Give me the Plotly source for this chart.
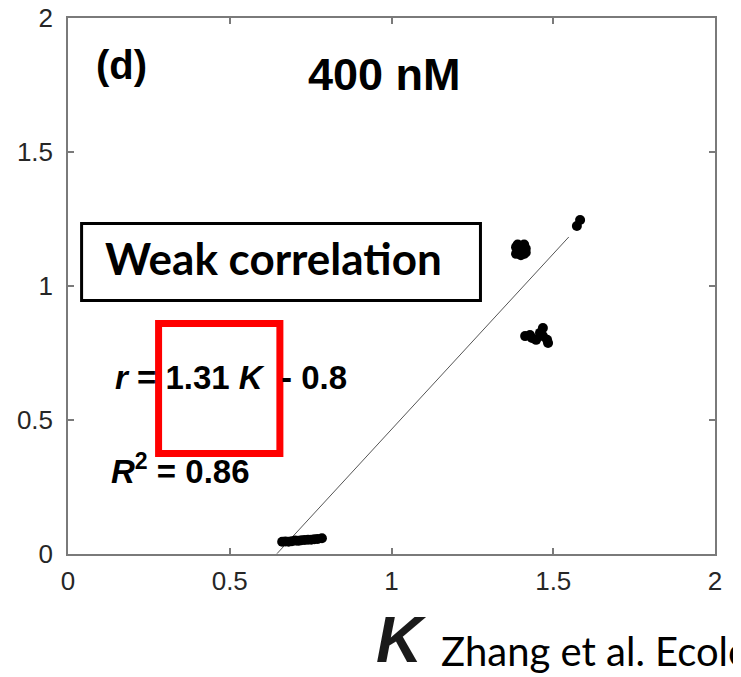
import plotly.graph_objects as go

# ---- data ----
k_values = [0.662, 0.672, 0.682, 0.692, 0.702, 0.712, 0.722, 0.732, 0.742, 0.752, 0.762, 0.772, 0.785,
            1.385, 1.390, 1.395, 1.400, 1.405, 1.410, 1.415, 1.390, 1.410, 1.400, 1.385, 1.415,
            1.413, 1.428, 1.434, 1.447, 1.459, 1.468, 1.468, 1.481, 1.484,
            1.573, 1.583]
r_values = [0.046, 0.047, 0.046, 0.048, 0.050, 0.049, 0.051, 0.052, 0.053, 0.053, 0.055, 0.056, 0.059,
            1.120, 1.140, 1.125, 1.150, 1.130, 1.155, 1.140, 1.155, 1.120, 1.115, 1.145, 1.125,
            0.813, 0.817, 0.806, 0.799, 0.825, 0.843, 0.813, 0.799, 0.787,
            1.224, 1.246]

fit_slope = 1.31
fit_intercept = -0.845
fit_k_range = [0.646, 1.548]

tick_vals = [0, 0.5, 1, 1.5, 2]
tick_text = ["0", "0.5", "1", "1.5", "2"]

panel_label = "(d)"
panel_title = "400 nM"
box_label = "Weak correlation"
equation_text = "<b><i>r</i> = 1.31 <i>K</i>  - 0.8</b>"
r2_text = "<b><i>R</i><sup>2</sup> = 0.86</b>"
x_title = "<b><i>K</i></b>"
citation = "Zhang et al. Ecology"

fit_r = [fit_slope * k + fit_intercept for k in fit_k_range]

fig = go.Figure()
fig.add_trace(go.Scatter(x=fit_k_range, y=fit_r, mode="lines",
                         line=dict(color="#555555", width=1), showlegend=False,
                         hoverinfo="skip"))
fig.add_trace(go.Scatter(x=k_values, y=r_values, mode="markers",
                         marker=dict(color="black", size=10, line=dict(width=0)),
                         showlegend=False))

axis_common = dict(range=[0, 2], tickvals=tick_vals, ticktext=tick_text,
                   showgrid=False, zeroline=False, showline=True, automargin=False,
                   ticklabeloverflow="allow",
                   linecolor="#7a7a7a", linewidth=1.5, mirror="ticks",
                   ticks="inside", ticklen=6, tickwidth=1.5, tickcolor="#7a7a7a",
                   tickfont=dict(family="Liberation Sans, Arial, sans-serif",
                                 size=26, color="#262626"))
fig.update_xaxes(**axis_common, ticklabelstandoff=3)
fig.update_yaxes(**axis_common, ticklabelstandoff=8)

# framed labels
fig.add_shape(type="rect", xref="x", yref="y", x0=0.042, x1=1.275, y0=0.946, y1=1.233,
              line=dict(color="black", width=3), fillcolor="rgba(0,0,0,0)")
fig.add_shape(type="rect", xref="x", yref="y", x0=0.280, x1=0.655, y0=0.375, y1=0.860,
              line=dict(color="#ff0000", width=7), fillcolor="rgba(0,0,0,0)")

bold_font = "Liberation Sans, Arial, Helvetica, sans-serif"
fig.add_annotation(x=0.08, y=1.825, xref="x", yref="y", text="<b>" + panel_label + "</b>",
                   showarrow=False, xanchor="left", yanchor="middle",
                   font=dict(family=bold_font, size=40, color="black"))
fig.add_annotation(x=0.977, y=1.789, xref="x", yref="y", text="<b>" + panel_title + "</b>",
                   showarrow=False, xanchor="center", yanchor="middle",
                   font=dict(family=bold_font, size=45, color="black"))
fig.add_annotation(x=0.635, y=1.104, xref="x", yref="y", text="<b>" + box_label + "</b>",
                   showarrow=False, xanchor="center", yanchor="middle",
                   font=dict(family="Lato, Carlito, Calibri, sans-serif", size=44, color="black"))
fig.add_annotation(x=0.139, y=0.657, xref="x", yref="y", text=equation_text,
                   showarrow=False, xanchor="left", yanchor="middle",
                   font=dict(family=bold_font, size=33, color="black"))
fig.add_annotation(x=0.128, y=0.317, xref="x", yref="y", text=r2_text,
                   showarrow=False, xanchor="left", yanchor="middle",
                   font=dict(family=bold_font, size=33, color="black"))
fig.add_annotation(x=0.515, y=-0.1604, xref="paper", yref="paper", text=x_title,
                   showarrow=False, xanchor="center", yanchor="middle",
                   font=dict(family=bold_font, size=64, color="#1a1a1a"))
fig.add_annotation(x=0.574, y=-0.181, xref="paper", yref="paper", text=citation,
                   showarrow=False, xanchor="left", yanchor="middle",
                   font=dict(family="Lato, Carlito, Calibri, sans-serif", size=40, color="black"))

# page body adds an 8 px offset; compensate so the plot frame lands where the reference has it
fig.update_layout(width=733, height=669,
                  margin=dict(l=60, r=26, t=10, b=123),
                  paper_bgcolor="white", plot_bgcolor="white")

fig.write_html("out.html")
